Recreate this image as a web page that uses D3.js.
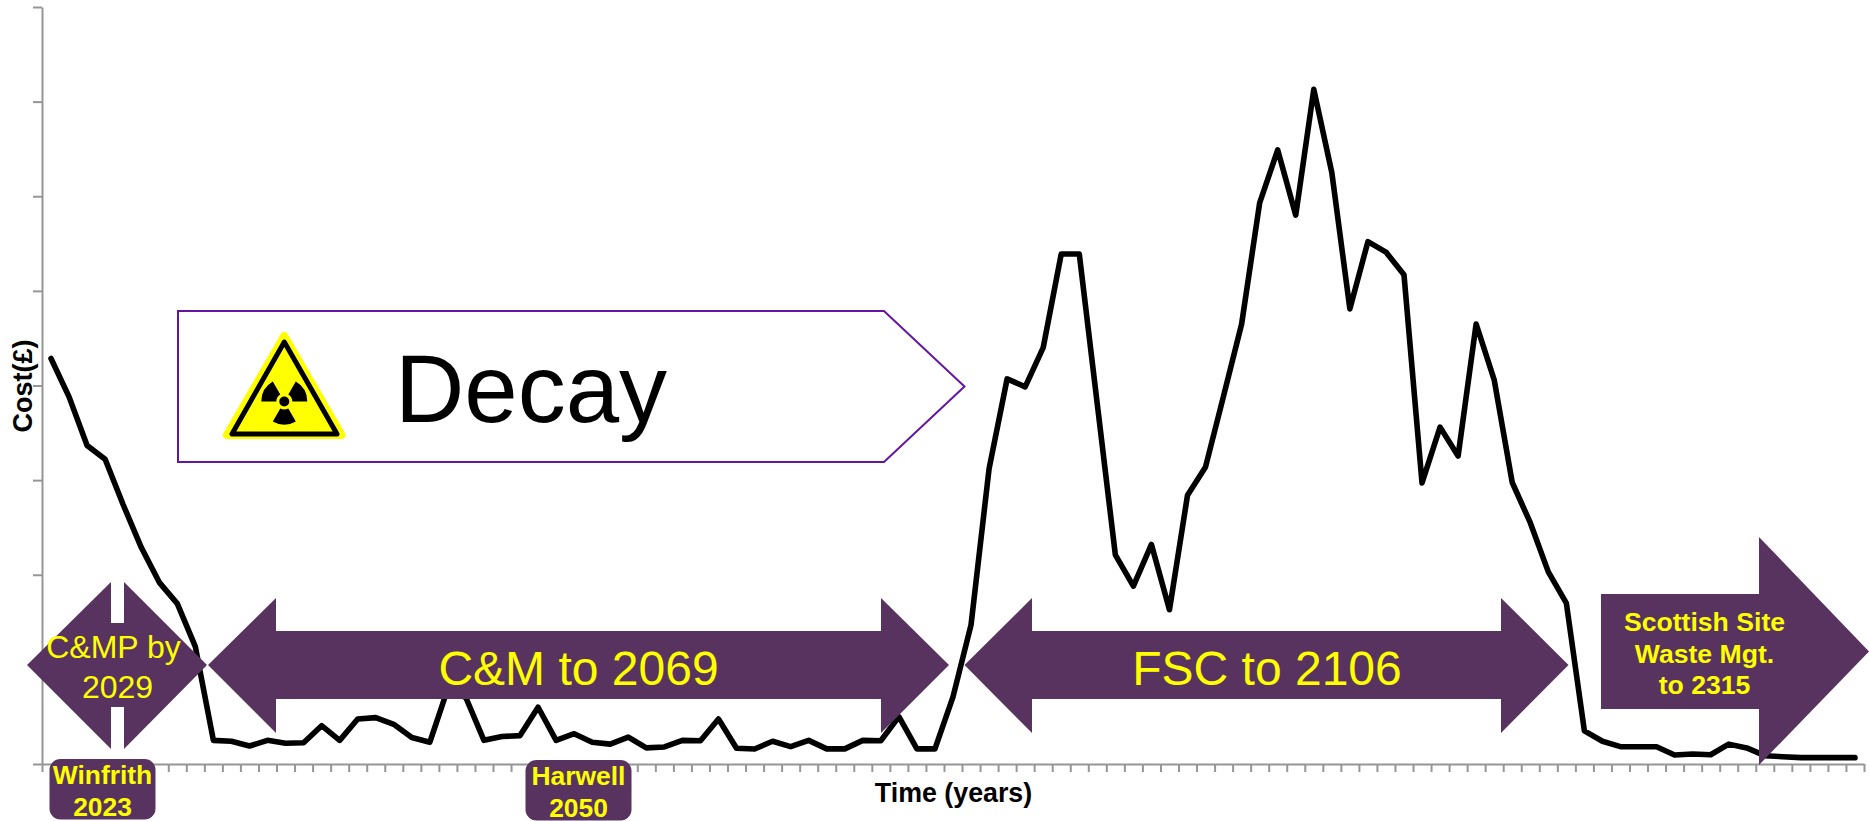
<!DOCTYPE html>
<html>
<head>
<meta charset="utf-8">
<script src="https://cdn.jsdelivr.net/npm/d3@7"></script>
<style>
  html, body { margin: 0; background: #fff; overflow: hidden; }
  svg { display: block; }
  text { font-family: "Liberation Sans", Arial, sans-serif; }
</style>
</head>
<body>
<svg></svg>
<script>
// cost per year (axis has no labels, so 0-800 is arbitrary)
const costs = [
  428.5, 388, 336.6, 322, 274, 229, 192, 169.5, 124, 25,
  24, 19, 25, 22, 22.5, 40.5, 25, 47.5, 49, 42,
  28, 23, 80, 70, 25, 29, 30, 60, 25, 32,
  23, 21, 28.5, 17, 18, 25, 24.6, 47.5, 16.6, 15.9,
  24, 18.3, 25, 16, 16, 25, 24.6, 50, 16, 16,
  71, 147, 312, 407, 398.6, 440, 539, 539, 380, 221,
  188, 232, 163, 284, 314, 389, 465, 593, 649, 580,
  713, 625, 481, 552, 541, 517, 297, 356, 325.5, 465,
  406, 297.5, 255, 203, 170, 35, 24, 18.3, 18.3, 18.3,
  9.5, 10.6, 9.8, 21, 17, 8.8, 7.7, 6.7, 6.7, 6.7, 6.7,
];
const yTicks = [0, 100, 200, 300, 400, 500, 600, 700, 800];
const phaseLabels = ['C&M to 2069', 'FSC to 2106'];
const cmpLabel = ['C&MP by', '2029'];
const scottishLabel = ['Scottish Site', 'Waste Mgt.', 'to 2315'];
const siteLabels = [['Winfrith', '2023'], ['Harwell', '2050']];

const width = 1869;
const height = 821;
const purple = '#593360';
const yellow = '#ffff00';

const svg = d3.select('svg').attr('width', width).attr('height', height);

const x = d3.scaleLinear().domain([0, costs.length]).range([42, 1864]);
const y = d3.scaleLinear().domain([0, 800]).range([764, 7]);

function styleAxis(g) {
  g.selectAll('path, line').attr('stroke', '#969696').attr('stroke-width', 2);
  g.select('.domain').attr('fill', 'none');
}

svg.append('g')
  .attr('transform', `translate(0,${y(0)})`)
  .call(d3.axisBottom(x).tickValues(d3.range(costs.length + 1)).tickFormat('').tickSize(8).tickSizeOuter(0))
  .call(styleAxis);

svg.append('g')
  .attr('transform', `translate(${x(0)},0)`)
  .call(d3.axisLeft(y).tickValues(yTicks).tickFormat('').tickSize(9).tickSizeOuter(0))
  .call(styleAxis);

const line = d3.line()
  .x((d, i) => x(i + 0.5))
  .y(d => y(d));

svg.append('path')
  .datum(costs)
  .attr('d', line)
  .attr('fill', 'none')
  .attr('stroke', '#000')
  .attr('stroke-width', 5.6)
  .attr('stroke-linejoin', 'round')
  .attr('stroke-linecap', 'round');

// axis titles
svg.append('text')
  .attr('transform', 'translate(32,386) rotate(-90)')
  .attr('text-anchor', 'middle')
  .attr('font-size', 27)
  .attr('font-weight', 'bold')
  .text('Cost(£)');

svg.append('text')
  .attr('x', 953.5)
  .attr('y', 801.5)
  .attr('text-anchor', 'middle')
  .attr('font-size', 26.8)
  .attr('font-weight', 'bold')
  .text('Time (years)');

// decay callout
svg.append('path')
  .attr('d', 'M178,311H884L964.5,386.5L884,462H178Z')
  .attr('fill', '#fff')
  .attr('stroke', '#6516a0')
  .attr('stroke-width', 2);

svg.append('text')
  .attr('x', 395)
  .attr('y', 422)
  .attr('font-size', 96)
  .text('Decay');

// hazard sign
const sign = svg.append('g');
sign.append('path')
  .attr('d', 'M284.3,336L227,435H341.5Z')
  .attr('fill', yellow)
  .attr('stroke', yellow)
  .attr('stroke-width', 8)
  .attr('stroke-linejoin', 'round');
sign.append('path')
  .attr('d', 'M284.3,342L232,434H337Z')
  .attr('fill', yellow)
  .attr('stroke', '#000')
  .attr('stroke-width', 5)
  .attr('stroke-linejoin', 'round');

const blade = d3.arc().innerRadius(8).outerRadius(23);
[Math.PI / 3, Math.PI, Math.PI * 5 / 3].forEach((a) => {
  sign.append('path')
    .attr('transform', 'translate(284.3,401.5)')
    .attr('d', blade({ startAngle: a - Math.PI / 6, endAngle: a + Math.PI / 6 }))
    .attr('fill', '#000');
});
sign.append('circle').attr('cx', 284.3).attr('cy', 401.5).attr('r', 5).attr('fill', '#000');

// phase arrows sit on top of the line
function doubleArrow(left, baseL, baseR, right) {
  return `M${left},665L${baseL},598V631H${baseR}V598L${right},665L${baseR},733V699H${baseL}V733Z`;
}

svg.append('path')
  .attr('d', 'M27,665L111,582V623H124V582L207,665L124,749V707H111V749Z')
  .attr('fill', purple);

svg.append('path').attr('d', doubleArrow(208, 276, 881, 949)).attr('fill', purple);
svg.append('path').attr('d', doubleArrow(964.5, 1032, 1501, 1568.5)).attr('fill', purple);

svg.append('path')
  .attr('d', 'M1601,594H1759V537L1869,651.5L1759,765V709H1601Z')
  .attr('fill', purple);

svg.selectAll('.phase')
  .data(phaseLabels)
  .enter()
  .append('text')
  .attr('class', 'phase')
  .attr('x', (d, i) => [578.5, 1267][i])
  .attr('y', 684.5)
  .attr('text-anchor', 'middle')
  .attr('font-size', 48)
  .attr('fill', yellow)
  .text(d => d);

svg.selectAll('.cmp')
  .data(cmpLabel)
  .enter()
  .append('text')
  .attr('class', 'cmp')
  .attr('x', (d, i) => [113.5, 117.5][i])
  .attr('y', (d, i) => [657.5, 697.5][i])
  .attr('text-anchor', 'middle')
  .attr('font-size', 32)
  .attr('fill', yellow)
  .text(d => d);

svg.selectAll('.scottish')
  .data(scottishLabel)
  .enter()
  .append('text')
  .attr('class', 'scottish')
  .attr('x', 1704.5)
  .attr('y', (d, i) => [631, 663, 694][i])
  .attr('text-anchor', 'middle')
  .attr('font-size', 26.6)
  .attr('font-weight', 'bold')
  .attr('fill', yellow)
  .text(d => d);

// site badges under the axis
const badges = svg.selectAll('.badge')
  .data(siteLabels)
  .enter()
  .append('g')
  .attr('class', 'badge')
  .attr('transform', (d, i) => `translate(${[102.5, 578.5][i]},${[759, 760][i]})`);

badges.append('rect')
  .attr('x', -53)
  .attr('width', 106)
  .attr('height', 60.5)
  .attr('rx', 11)
  .attr('fill', purple);

badges.selectAll('text')
  .data(d => d)
  .enter()
  .append('text')
  .attr('y', (d, i) => [25, 57][i])
  .attr('text-anchor', 'middle')
  .attr('font-size', 26.4)
  .attr('font-weight', 'bold')
  .attr('fill', yellow)
  .text(d => d);
</script>
</body>
</html>
